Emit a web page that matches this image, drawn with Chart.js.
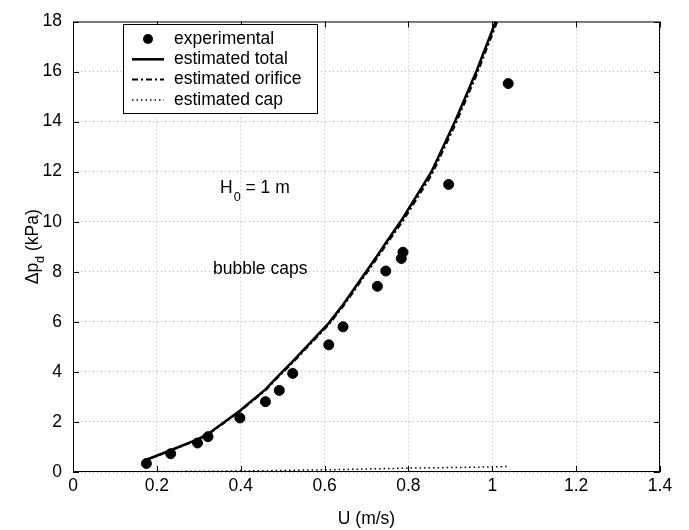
<!DOCTYPE html>
<html>
<head>
<meta charset="utf-8">
<script src="https://cdn.jsdelivr.net/npm/chart.js@4.4.1/dist/chart.umd.min.js"></script>
<style>
  html, body { margin: 0; padding: 0; background: #fff; }
  #wrap { width: 689px; height: 530px; }
</style>
</head>
<body>
<div id="wrap"><canvas id="chart" width="689" height="530"></canvas></div>
<script>
  /* ── Data ── */
  var uExp = [0.175, 0.233, 0.297, 0.322, 0.398, 0.459, 0.492, 0.524, 0.610, 0.644, 0.726, 0.746, 0.783, 0.787, 0.896, 1.038];
  var dpExp = [0.34, 0.73, 1.16, 1.41, 2.16, 2.81, 3.26, 3.94, 5.08, 5.80, 7.42, 8.03, 8.53, 8.78, 11.49, 15.52];

  var uEst = [0.172, 0.233, 0.297, 0.322, 0.398, 0.459, 0.492, 0.524, 0.610, 0.644, 0.726, 0.746, 0.787, 0.855, 0.911, 0.962, 1.038];
  var dpTotal = [0.47, 0.87, 1.30, 1.52, 2.45, 3.30, 3.88, 4.42, 5.95, 6.68, 8.65, 9.15, 10.15, 12.00, 14.00, 16.00, 19.30];
  var dpOrifice = [0.46, 0.86, 1.28, 1.50, 2.42, 3.26, 3.84, 4.37, 5.89, 6.61, 8.56, 9.06, 10.03, 11.86, 13.85, 15.84, 19.12];
  var dpCap = [0.01, 0.02, 0.03, 0.03, 0.04, 0.05, 0.06, 0.07, 0.09, 0.10, 0.13, 0.14, 0.15, 0.17, 0.18, 0.19, 0.22];

  var xTicks = [0, 0.2, 0.4, 0.6, 0.8, 1, 1.2, 1.4];
  var yTicks = [0, 2, 4, 6, 8, 10, 12, 14, 16, 18];

  var FONT = '"Liberation Sans", Arial, Helvetica, sans-serif';
  var FS = 17.5;

  function pts(xs, ys) {
    return xs.map(function (x, i) { return { x: x, y: ys[i] }; });
  }

  /* ── Frame, inside ticks, legend, labels ── */
  var decor = {
    id: "decor",
    afterDraw: function (chart) {
      var ctx = chart.ctx, a = chart.chartArea;
      var xs = chart.scales.x, ys = chart.scales.y;
      ctx.save();
      ctx.strokeStyle = "#000";
      ctx.lineWidth = 1;
      ctx.setLineDash([]);
      ctx.strokeRect(a.left + 0.5, a.top + 0.5, a.right - a.left - 1, a.bottom - a.top - 1);

      var tl = 6;
      ctx.beginPath();
      xTicks.forEach(function (v) {
        var px = Math.round(xs.getPixelForValue(v)) + 0.5;
        ctx.moveTo(px, a.bottom); ctx.lineTo(px, a.bottom - tl);
        ctx.moveTo(px, a.top); ctx.lineTo(px, a.top + tl);
      });
      yTicks.forEach(function (v) {
        var py = Math.round(ys.getPixelForValue(v)) + 0.5;
        ctx.moveTo(a.left, py); ctx.lineTo(a.left + tl, py);
        ctx.moveTo(a.right, py); ctx.lineTo(a.right - tl, py);
      });
      ctx.stroke();

      /* legend */
      var lx = 123, ly = 24, lw = 194, lh = 89;
      ctx.fillStyle = "#fff";
      ctx.fillRect(lx, ly, lw, lh);
      ctx.strokeRect(lx + 0.5, ly + 0.5, lw, lh);
      var rows = [
        { label: "experimental", kind: "dot" },
        { label: "estimated total", kind: "line", dash: [], w: 2.5 },
        { label: "estimated orifice", kind: "line", dash: [6, 3, 2, 3], w: 2 },
        { label: "estimated cap", kind: "line", dash: [1.5, 3], w: 1.5 }
      ];
      ctx.font = FS + "px " + FONT;
      ctx.textBaseline = "middle";
      ctx.textAlign = "left";
      rows.forEach(function (r, i) {
        var cy = 39 + i * 20.3;
        ctx.fillStyle = "#000";
        if (r.kind === "dot") {
          ctx.beginPath();
          ctx.arc(148, cy, 5, 0, Math.PI * 2);
          ctx.fill();
        } else {
          ctx.save();
          ctx.lineWidth = r.w;
          ctx.setLineDash(r.dash);
          ctx.beginPath();
          ctx.moveTo(132, cy); ctx.lineTo(164, cy);
          ctx.stroke();
          ctx.restore();
        }
        ctx.fillText(r.label, 174, cy);
      });

      /* annotations */
      ctx.textBaseline = "alphabetic";
      ctx.fillText("H", 220, 193);
      var hw = ctx.measureText("H").width;
      ctx.font = (FS * 0.72) + "px " + FONT;
      ctx.fillText("0", 220 + hw + 1, 201);
      var zw = ctx.measureText("0").width;
      ctx.font = FS + "px " + FONT;
      ctx.fillText(" = 1 m", 220 + hw + 1 + zw, 193);
      ctx.fillText("bubble caps", 213, 274);

      /* y title with subscript */
      ctx.save();
      ctx.translate(38, (a.top + a.bottom) / 2);
      ctx.rotate(-Math.PI / 2);
      var p1 = "\u0394p", sub = "d", p2 = " (kPa)";
      ctx.font = FS + "px " + FONT;
      var w1 = ctx.measureText(p1).width, w3 = ctx.measureText(p2).width;
      ctx.font = (FS * 0.72) + "px " + FONT;
      var w2 = ctx.measureText(sub).width;
      var start = -(w1 + w2 + w3) / 2;
      ctx.font = FS + "px " + FONT;
      ctx.fillText(p1, start, 0);
      ctx.font = (FS * 0.72) + "px " + FONT;
      ctx.fillText(sub, start + w1, 6);
      ctx.font = FS + "px " + FONT;
      ctx.fillText(p2, start + w1 + w2, 0);
      ctx.restore();

      ctx.restore();
    }
  };

  new Chart(document.getElementById("chart").getContext("2d"), {
    type: "scatter",
    data: {
      datasets: [
        {
          label: "experimental",
          data: pts(uExp, dpExp),
          backgroundColor: "#000",
          borderColor: "#000",
          pointRadius: 5,
          pointHoverRadius: 5,
          showLine: false
        },
        {
          label: "estimated total",
          data: pts(uEst, dpTotal),
          showLine: true,
          borderColor: "#000",
          borderWidth: 2.5,
          pointRadius: 0,
          tension: 0
        },
        {
          label: "estimated orifice",
          data: pts(uEst, dpOrifice),
          showLine: true,
          borderColor: "#000",
          borderWidth: 2,
          borderDash: [6, 3, 2, 3],
          pointRadius: 0,
          tension: 0
        },
        {
          label: "estimated cap",
          data: pts(uEst, dpCap),
          showLine: true,
          borderColor: "#000",
          borderWidth: 1.5,
          borderDash: [1.5, 3],
          pointRadius: 0,
          tension: 0
        }
      ]
    },
    options: {
      responsive: false,
      animation: false,
      devicePixelRatio: 1,
      layout: { padding: { top: 11, right: 29, left: 0, bottom: 0 } },
      plugins: { legend: { display: false }, tooltip: { enabled: false } },
      scales: {
        x: {
          type: "linear",
          min: 0, max: 1.4,
          afterBuildTicks: function (s) { s.ticks = xTicks.map(function (v) { return { value: v }; }); },
          afterFit: function (s) { s.height = 58; },
          ticks: {
            color: "#000",
            font: { family: FONT, size: FS },
            padding: 4,
            maxRotation: 0,
            callback: function (v) { return String(+v.toFixed(1)); }
          },
          grid: { color: "#b0b0b0", lineWidth: 1, drawTicks: false },
          border: { display: false, dash: [1, 3] },
          title: { display: true, text: "U (m/s)", color: "#000", font: { family: FONT, size: FS }, padding: { top: 2, bottom: 0 } }
        },
        y: {
          type: "linear",
          min: 0, max: 18,
          afterBuildTicks: function (s) { s.ticks = yTicks.map(function (v) { return { value: v }; }); },
          afterFit: function (s) { s.width = 73; },
          ticks: {
            color: "#000",
            font: { family: FONT, size: FS },
            padding: 11
          },
          grid: { color: "#b0b0b0", lineWidth: 1, drawTicks: false },
          border: { display: false, dash: [1, 3] }
        }
      }
    },
    plugins: [decor]
  });
</script>
</body>
</html>
